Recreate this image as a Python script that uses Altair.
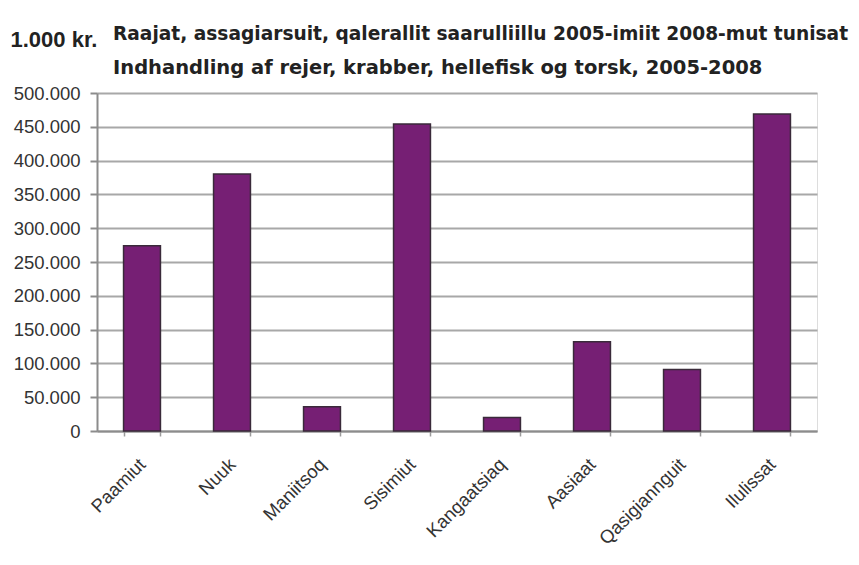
import altair as alt
import pandas as pd

towns = ["Paamiut", "Nuuk", "Maniitsoq", "Sisimiut", "Kangaatsiaq", "Aasiaat", "Qasigiannguit", "Ilulissat"]
values = [274000, 380000, 36000, 454000, 20000, 132000, 91000, 469000]
y_ticks = [0, 50000, 100000, 150000, 200000, 250000, 300000, 350000, 400000, 450000, 500000]

title_line1 = "Raajat, assagiarsuit, qalerallit saarulliillu 2005-imiit 2008-mut tunisat"
title_line2 = "Indhandling af rejer, krabber, hellefisk og torsk, 2005-2008"
unit_label = "1.000 kr."

df = pd.DataFrame({"town": towns, "value": values})

chart = (
    alt.Chart(df)
    .mark_bar(color="#761F74", stroke="#3A2A3A", strokeWidth=1.5)
    .encode(
        x=alt.X(
            "town:N",
            sort=towns,
            scale=alt.Scale(paddingInner=0.59, paddingOuter=0.295),
            axis=alt.Axis(
                title=None,
                labelAngle=-45,
                labelAlign="right",
                labelBaseline="middle",
                labelPadding=25,
                labelFont="Liberation Sans",
                labelFontSize=18.5,
                labelColor="#333333",
                tickBand="extent",
                tickSize=5,
                tickColor="#9A9A9A",
                tickWidth=1.5,
                domainColor="#8C8C8C",
                domainWidth=2,
                grid=False,
            ),
        ),
        y=alt.Y(
            "value:Q",
            scale=alt.Scale(domain=[0, 500000], nice=False),
            axis=alt.Axis(
                values=y_ticks,
                labelExpr="replace(format(datum.value, ',d'), /,/g, '.')",
                labelFont="Liberation Sans",
                labelFontSize=18.5,
                labelColor="#333333",
                labelPadding=10,
                tickSize=7,
                tickColor="#8C8C8C",
                tickWidth=2,
                domainColor="#8C8C8C",
                domainWidth=2,
                gridColor="#A8A8A8",
                gridWidth=2,
                title=unit_label,
                titleAngle=0,
                titleAlign="left",
                titleBaseline="alphabetic",
                titleX=-87,
                titleY=-47,
                titleFont="Liberation Sans",
                titleFontSize=22,
                titleFontWeight="bold",
                titleColor="#222222",
            ),
        ),
    )
    .properties(
        width=720,
        height=338,
        autosize=alt.AutoSizeParams(type="none"),
        padding={"left": 89, "top": 85, "right": 34, "bottom": 120},
        title=alt.TitleParams(
            text=title_line1,
            subtitle=title_line2,
            anchor="start",
            frame="group",
            font="DejaVu Sans",
            fontSize=18.6,
            fontWeight="bold",
            color="#222222",
            subtitleFont="DejaVu Sans",
            subtitleFontSize=19.5,
            subtitleFontWeight="bold",
            subtitleColor="#222222",
            subtitlePadding=15,
            dx=16,
            dy=59,
            offset=10,
        ),
    )
    .configure_view(stroke="#A8A8A8", strokeWidth=2)
    .configure(background="white")
)

chart.save("out.html", embed_options={"renderer": "svg", "actions": False})
